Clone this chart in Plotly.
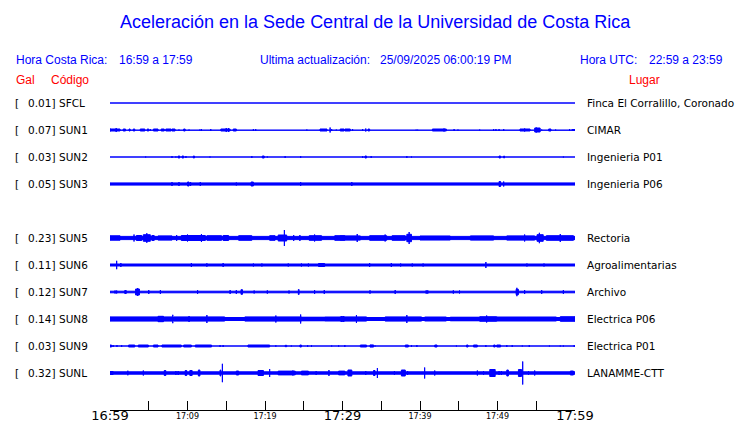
import plotly.graph_objects as go

# ---------------- data ----------------
STATIONS = ["SFCL", "SUN1", "SUN2", "SUN3", "SUN5", "SUN6", "SUN7", "SUN8", "SUN9", "SUNL"]
GAL = [0.01, 0.07, 0.03, 0.05, 0.23, 0.11, 0.12, 0.14, 0.03, 0.32]
PLACES = ["Finca El Corralillo, Coronado", "CIMAR", "Ingenieria P01", "Ingenieria P06",
          "Rectoria", "Agroalimentarias", "Archivo", "Electrica P06", "Electrica P01", "LANAMME-CTT"]
SLOT = [0, 1, 2, 3, 5, 6, 7, 8, 9, 10]   # slot 4 (SUN4) has no data

# background (noise floor) half amplitude of each trace, display units
BASE_AMP = [0.5, 0.7, 0.5, 1.6, 2.1, 1.5, 1.3, 2.0, 0.5, 1.7]

# events: (start minute, end minute, half amplitude)
EVENTS = {
    "SFCL": [],
    "SUN1": [(0.0, 1.3, 1.5), (0.0, 0.0, 2.0), (0.8, 0.8, 2.5), (1.7, 2.0, 1.5), (2.45, 2.6, 1.5),
             (3.0, 3.2, 1.5), (3.9, 4.5, 1.5), (4.8, 5.0, 1.5), (5.2, 5.2, 1.5), (5.6, 6.2, 1.5),
             (6.6, 7.0, 1.5), (7.2, 7.9, 1.5), (8.0, 8.4, 1.5), (8.9, 8.9, 1.0), (9.5, 9.7, 1.5),
             (10.2, 10.2, 1.0), (11.6, 11.6, 1.0), (11.8, 11.8, 1.5), (13.0, 13.0, 1.5),
             (14.3, 15.5, 1.5), (15.0, 15.0, 2.5), (15.3, 15.3, 2.5), (15.9, 16.3, 1.5),
             (18.5, 18.5, 1.5), (18.8, 18.8, 1.5), (25.4, 25.4, 1.0), (27.1, 28.0, 1.5),
             (28.4, 28.4, 3.0), (28.6, 28.6, 1.5), (29.2, 29.2, 1.0), (29.7, 30.2, 1.5),
             (30.3, 31.0, 1.5), (31.3, 31.3, 1.5), (32.6, 32.6, 1.5), (33.0, 33.0, 2.0),
             (33.3, 33.5, 1.5), (39.5, 39.5, 0.8), (39.7, 39.7, 0.8), (41.6, 43.4, 1.5),
             (43.1, 43.1, 2.0), (44.4, 44.4, 1.5), (44.9, 44.9, 1.0), (47.7, 47.7, 1.0),
             (49.5, 49.5, 1.5), (49.8, 49.8, 1.5), (50.2, 50.2, 1.5), (50.8, 50.8, 1.5),
             (52.9, 54.2, 1.5), (53.5, 53.5, 2.0), (54.8, 55.5, 2.5), (55.0, 55.0, 3.0),
             (55.7, 55.7, 1.0), (56.6, 56.9, 1.5), (57.5, 57.5, 1.0), (59.3, 59.3, 1.5),
             (59.6, 60.0, 1.0)],
    "SUN2": [(4.6, 4.6, 1.0), (8.0, 8.0, 1.5), (8.5, 8.5, 1.0), (8.8, 9.0, 1.5), (9.3, 9.5, 1.5),
             (9.8, 9.8, 1.5), (10.75, 10.9, 1.5), (12.9, 12.9, 1.0), (18.3, 18.3, 1.5),
             (19.65, 19.9, 1.5), (20.3, 20.3, 1.0), (22.6, 22.6, 1.5), (24.6, 24.6, 1.5),
             (32.6, 32.6, 1.5), (32.9, 33.1, 1.5), (33.7, 33.7, 1.5), (38.3, 38.3, 1.5),
             (38.9, 38.9, 1.0), (50.2, 50.4, 1.5), (50.8, 50.9, 1.5), (58.5, 58.5, 1.0)],
    "SUN3": [(8.0, 8.0, 2.5), (8.9, 8.9, 2.5), (10.0, 10.2, 2.5), (10.4, 10.4, 2.5),
             (11.65, 11.65, 2.5), (16.3, 16.3, 2.0), (18.2, 18.5, 2.5), (24.6, 24.6, 2.5),
             (31.2, 31.2, 2.5), (50.2, 50.4, 3.0), (50.8, 50.8, 3.0)],
    "SUN5": [(0.0, 1.3, 2.7), (3.1, 3.1, 4.0), (3.4, 4.1, 3.0), (4.3, 5.2, 3.8), (4.75, 4.75, 5.3),
             (5.4, 5.7, 3.0), (6.2, 8.0, 2.6), (8.6, 8.6, 3.5), (9.2, 12.3, 3.0), (11.8, 11.8, 4.5),
             (10.0, 10.0, 4.0), (12.5, 14.4, 2.8), (14.6, 15.3, 3.0), (16.6, 18.3, 2.8),
             (20.6, 21.3, 2.8), (21.7, 22.8, 3.5), (22.5, 22.5, 8.5), (23.7, 23.7, 3.5),
             (24.5, 24.5, 3.5), (25.7, 27.3, 2.8), (26.4, 26.4, 4.0), (29.0, 30.3, 2.8),
             (29.7, 32.3, 2.6), (31.9, 31.9, 4.5), (33.5, 35.7, 2.8), (35.5, 35.5, 4.0),
             (36.4, 38.1, 2.8), (38.3, 38.9, 4.2), (38.6, 38.6, 6.5), (40.0, 43.9, 2.5),
             (46.5, 49.5, 2.6), (51.2, 54.8, 2.6), (53.5, 53.5, 4.0), (55.1, 55.9, 3.8),
             (55.4, 55.4, 5.7), (56.3, 59.8, 2.8), (58.1, 58.1, 4.5)],
    "SUN6": [(0.86, 0.86, 4.7), (1.4, 1.4, 2.5), (10.5, 10.5, 2.5), (12.5, 12.5, 2.2),
             (14.6, 14.6, 2.5), (18.5, 18.5, 2.0), (19.6, 19.6, 2.0), (23.0, 23.0, 2.0),
             (24.7, 24.7, 2.0), (25.6, 25.6, 2.0), (26.9, 27.7, 2.0), (33.5, 33.5, 2.5),
             (36.3, 36.3, 2.5), (37.5, 37.5, 2.0), (39.0, 39.0, 2.0), (40.4, 40.4, 2.0),
             (48.5, 48.5, 3.5), (53.8, 53.8, 2.0), (56.0, 56.0, 2.0)],
    "SUN7": [(0.65, 0.65, 2.0), (0.86, 0.86, 2.0), (1.9, 2.1, 2.0), (3.3, 3.8, 3.5),
             (3.57, 3.57, 4.5), (5.0, 5.0, 2.5), (6.5, 6.5, 2.5), (11.3, 11.3, 2.5),
             (15.5, 15.5, 2.5), (16.3, 16.3, 2.5), (16.9, 17.1, 2.8), (18.6, 18.6, 2.0),
             (20.3, 20.3, 2.2), (23.1, 23.1, 2.0), (24.3, 24.4, 3.0), (26.4, 26.4, 2.5),
             (27.65, 27.65, 2.5), (33.55, 33.55, 2.2), (36.8, 36.8, 2.5), (40.8, 40.8, 2.2),
             (41.0, 41.0, 2.2), (44.3, 44.3, 2.2), (45.1, 45.1, 2.0), (52.4, 52.7, 3.2),
             (52.5, 52.5, 4.7), (53.5, 53.5, 2.5), (55.7, 55.7, 2.5), (58.5, 58.5, 2.5)],
    "SUN8": [(0.0, 8.0, 2.6), (6.2, 6.9, 3.2), (8.1, 8.1, 4.7), (8.2, 14.8, 2.6), (10.2, 10.2, 3.5),
             (12.5, 12.5, 4.5), (17.4, 24.7, 2.6), (21.4, 21.4, 4.0), (24.6, 24.6, 5.0),
             (24.7, 27.7, 2.3), (27.7, 30.3, 2.5), (29.9, 29.9, 3.5), (29.7, 33.1, 2.6),
             (30.1, 30.1, 3.5), (31.8, 31.8, 4.5), (35.5, 38.3, 2.6), (38.3, 38.3, 4.5),
             (38.3, 40.2, 2.6), (40.6, 43.4, 2.5), (43.9, 47.7, 2.3), (47.7, 49.9, 2.8),
             (48.6, 48.6, 4.0), (49.9, 53.8, 2.5), (53.8, 57.6, 2.5), (58.1, 60.0, 2.8)],
    "SUN9": [(0.0, 0.2, 1.5), (0.4, 0.4, 1.5), (0.9, 0.9, 1.5), (1.5, 1.5, 1.5), (2.4, 3.2, 1.5),
             (3.65, 4.95, 1.5), (5.6, 6.2, 1.5), (6.7, 9.2, 1.5), (9.5, 10.5, 1.5), (11.0, 13.1, 1.5),
             (14.2, 14.2, 1.5), (14.6, 14.6, 1.5), (17.8, 20.6, 1.5), (21.4, 21.4, 1.2),
             (22.6, 22.8, 1.2), (23.4, 23.4, 1.0), (24.5, 24.7, 1.5), (25.5, 25.5, 1.5),
             (26.0, 26.0, 1.5), (28.6, 28.6, 1.0), (29.5, 29.5, 1.2), (30.3, 30.3, 1.5),
             (32.3, 33.1, 1.5), (33.55, 34.0, 1.6), (34.2, 34.2, 1.0), (38.1, 38.5, 1.5),
             (38.9, 38.9, 1.5), (39.6, 39.6, 1.5), (41.9, 42.2, 1.5), (44.7, 44.7, 1.0),
             (46.0, 46.2, 1.5), (46.9, 47.4, 1.5), (48.5, 48.5, 1.5), (49.5, 49.7, 1.5),
             (49.9, 50.4, 1.5), (51.2, 51.2, 1.5), (51.9, 51.9, 1.5), (53.2, 53.2, 1.0),
             (54.1, 54.1, 1.5), (56.7, 56.7, 1.0), (58.1, 58.1, 1.0), (58.5, 58.5, 1.0),
             (59.9, 59.9, 1.5)],
    "SUNL": [(0.0, 0.4, 2.0), (2.3, 2.3, 2.8), (4.3, 4.3, 3.0), (7.0, 7.2, 3.0), (8.5, 8.5, 2.5),
             (8.8, 8.8, 2.5), (9.7, 9.9, 3.0), (10.3, 10.6, 3.0), (11.4, 11.6, 3.5),
             (14.2, 14.3, 3.5), (14.5, 14.5, 9.7), (16.3, 16.6, 2.5), (19.1, 19.8, 3.0),
             (20.6, 20.6, 4.5), (21.7, 23.9, 2.4), (23.6, 23.6, 3.0), (24.7, 25.6, 2.4),
             (26.6, 26.6, 2.5), (28.25, 28.25, 3.5), (29.5, 30.3, 2.4), (30.7, 31.2, 3.5),
             (33.0, 33.0, 2.5), (34.0, 34.2, 3.0), (34.5, 34.5, 5.5), (36.7, 36.7, 2.5),
             (37.6, 38.1, 3.5), (38.4, 38.4, 2.5), (40.6, 40.6, 6.0), (41.9, 41.9, 3.0),
             (47.4, 47.4, 3.0), (48.2, 48.2, 2.5), (49.0, 49.7, 4.0), (50.2, 50.2, 2.5),
             (50.5, 50.5, 2.5), (51.2, 51.4, 3.5), (52.7, 53.1, 4.0), (53.25, 53.25, 12.0),
             (54.0, 54.0, 2.5), (54.8, 54.8, 3.0), (59.4, 59.8, 2.5)],
}

SPAN_MIN = 60
TICK_MIN = list(range(0, 61, 5))
SMALL_LABELS = ["", "", "17:09", "", "17:19", "", "", "", "17:39", "", "17:49", "", ""]
BIG_TICKS = [0, 30, 60]
BIG_LABELS = ["16:59", "17:29", "17:59"]

TITLE = "Aceleración en la Sede Central de la Universidad de Costa Rica"

# ---------------- layout constants ----------------
W, H = 740, 423
L, R, T, B = 110, 165, 88, 13
ROW_SP = 27          # px between trace rows
ROW0_PX = 103        # pixel row of first trace
PW, PH = W - L - R, H - T - B
BLUE = "#0000ff"
RED = "#ff0000"
OUTLINE = 0.5


def xp(px):
    return (px - L) / PW


def yp(py):
    return (H - B - py) / PH


fig = go.Figure()

for i, code in enumerate(STATIONS):
    c = -ROW_SP * SLOT[i]
    xs, ys = [], []
    segs = [(0, SPAN_MIN, BASE_AMP[i])] + EVENTS[code]
    for t0, t1, a in segs:
        h = max(a - OUTLINE, 0)
        xs += [t0, t1, t1, t0, t0, None]
        ys += [c - h, c - h, c + h, c + h, c - h, None]
    fig.add_trace(go.Scatter(x=xs, y=ys, mode="lines", fill="toself",
                             fillcolor=BLUE, line=dict(color=BLUE, width=1),
                             hoverinfo="skip", showlegend=False))

fig.add_trace(go.Scatter(x=[None], y=[None], xaxis="x2", showlegend=False, hoverinfo="skip"))

ann = []
lab_font = dict(family="DejaVu Sans", size=10.5, color="black")
for i, code in enumerate(STATIONS):
    c = -ROW_SP * SLOT[i]
    ann.append(dict(x=xp(13), y=c, xref="paper", yref="y", text="[", showarrow=False,
                    xanchor="left", yanchor="middle", font=lab_font))
    ann.append(dict(x=xp(57), y=c, xref="paper", yref="y", text=f"{GAL[i]:.2f}]", showarrow=False,
                    xanchor="right", yanchor="middle", font=lab_font))
    ann.append(dict(x=xp(57), y=c, xref="paper", yref="y", text=code, showarrow=False,
                    xanchor="left", yanchor="middle", font=lab_font))
    ann.append(dict(x=xp(585), y=c, xref="paper", yref="y", text=PLACES[i], showarrow=False,
                    xanchor="left", yanchor="middle", font=lab_font))

hdr = dict(family="Liberation Sans", size=12, color=BLUE)
red = dict(family="Liberation Sans", size=12, color=RED)
ann.append(dict(x=xp(375), y=yp(22), xref="paper", yref="paper", text=TITLE, showarrow=False,
                xanchor="center", yanchor="middle",
                font=dict(family="Liberation Sans", size=18, color=BLUE)))
for px, txt in [(14, "Hora Costa Rica:"), (117, "16:59 a 17:59"),
                (258, "Ultima actualización:"), (378, "25/09/2025 06:00:19 PM"),
                (578, "Hora UTC:"), (647, "22:59 a 23:59")]:
    ann.append(dict(x=xp(px), y=yp(60), xref="paper", yref="paper", text=txt, showarrow=False,
                    xanchor="left", yanchor="middle", font=hdr))
for px, txt in [(14, "Gal"), (49, "Código"), (627, "Lugar")]:
    ann.append(dict(x=xp(px), y=yp(80), xref="paper", yref="paper", text=txt, showarrow=False,
                    xanchor="left", yanchor="middle", font=red))

fig.update_layout(
    width=W, height=H, margin=dict(l=L, r=R, t=T, b=B, pad=0),
    paper_bgcolor="white", plot_bgcolor="white",
    xaxis=dict(range=[0, SPAN_MIN], tickvals=TICK_MIN, ticktext=SMALL_LABELS,
               ticks="inside", ticklen=9, tickwidth=1, tickcolor="black",
               showline=True, linecolor="black", linewidth=1, showgrid=False, zeroline=False,
               tickfont=dict(family="DejaVu Sans", size=8, color="black"), automargin=False,
               ticklabelstandoff=-2, fixedrange=True),
    xaxis2=dict(range=[0, SPAN_MIN], overlaying="x", anchor="y", side="bottom",
                tickvals=BIG_TICKS, ticktext=BIG_LABELS, ticks="", showline=False,
                showgrid=False, zeroline=False, automargin=False, ticklabelstandoff=-4,
                tickfont=dict(family="DejaVu Sans", size=13, color="black")),
    yaxis=dict(range=[-(H - B - ROW0_PX), ROW0_PX - T], visible=False, fixedrange=True),
    annotations=ann,
    showlegend=False,
)

fig.write_html("out.html", config={"displayModeBar": False},
               post_script="document.body.style.margin='0';document.body.style.overflow='hidden';")
